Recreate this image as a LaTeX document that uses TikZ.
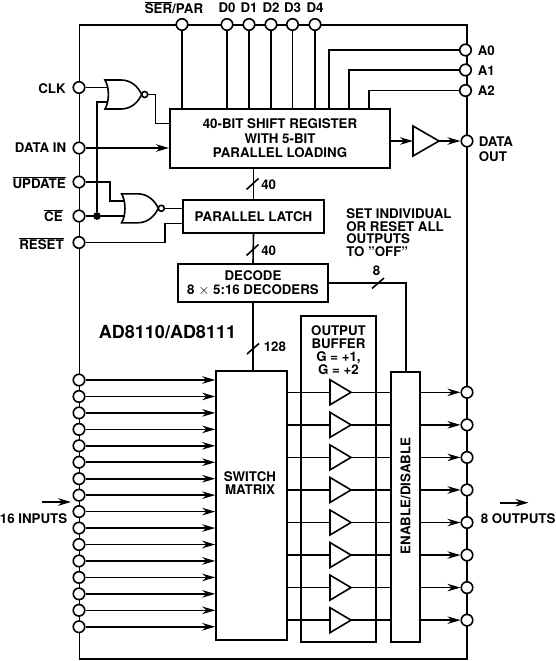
\documentclass[tikz,border=0pt]{standalone}
\usepackage{fontspec}
\setmainfont{TeX Gyre Heros}
\usetikzlibrary{arrows.meta,shapes.geometric}
\newcommand{\ovl}[1]{$\overline{\mbox{#1}}$}
\begin{document}
\begin{tikzpicture}[x=1pt,y=-1pt,>={Stealth[length=13pt,width=7.5pt]}, line width=1.6pt, line join=miter,
	font=\bfseries\fontsize{13.3}{14.4}\selectfont,
	box/.style={draw,rectangle,inner sep=0pt,align=center},
	pin/.style={draw,circle,fill=white,inner sep=0pt,minimum size=11.5pt},
	lab/.style={inner sep=0pt,align=left},
	amp/.style={draw,isosceles triangle,isosceles triangle stretches,inner sep=0pt,outer sep=0pt,anchor=lower side},
	dot/.style={draw,circle,fill=black,inner sep=0pt,minimum size=6pt},
	norgate/.pic={
		\draw (0,-14.5) -- (16,-14.5) .. controls (26,-14.5) and (33,-8) .. (36.7,0) .. controls (33,8) and (26,14.5) .. (16,14.5) -- (0,14.5) .. controls (4.5,7) and (4.5,-7) .. (0,-14.5) -- cycle;
		\draw[fill=white] (39.7,0) circle (3);
		\coordinate (-ina) at (2.8,-7.25);
		\coordinate (-inb) at (2.8,7.25);
		\coordinate (-out) at (42.7,0);
	}]
	\useasboundingbox (0,0) rectangle (556,661);
	\def\xL{79.5} \def\xR{467} \def\yT{25} \def\yB{659}
	\draw[line width=1.9pt] (\xL,\yT) rectangle (\xR,\yB);
	% Khoi
	\node[box,minimum width=220.5pt,minimum height=59pt] (reg) at (280,138.5) {40-BIT SHIFT REGISTER\\WITH 5-BIT\\PARALLEL LOADING};
	\node[box,minimum width=140.5pt,minimum height=33pt] (latch) at (253.5,216.5) {PARALLEL LATCH};
	\node[box,minimum width=150pt,minimum height=38pt] (dec) at (253,283) {DECODE\\8 $\times$ 5:16 DECODERS};
	\node[box,minimum width=71pt,minimum height=269pt] (sw) at (251.5,505.5) {};
	\node[lab,align=center,font=\bfseries\fontsize{13.3}{12.6}\selectfont] (swtext) at (250,483) {SWITCH\\MATRIX};
	\node[box,minimum width=75pt,minimum height=326pt] (obuf) at (338.5,479) {};
	\node[box,minimum width=28.5pt,minimum height=270.5pt] (en) at (405.5,507) {};
	\node[rotate=90,inner sep=0pt] (entext) at (405.5,496) {ENABLE/DISABLE};
	\node[lab,align=center,font=\bfseries\fontsize{13.3}{13}\selectfont] (obuftext) at (338.5,350.5) {OUTPUT\\BUFFER\\G = +1,\\G = +2};
	% Chan tren
	\node[pin] (ser) at (182,24.5) {};
	\node[lab] (sertext) at (174,8) {\ovl{SER}/PAR};
	\draw (ser) -- (ser |- reg.north);
	\foreach \t/\x in {0/227,1/249,2/271,3/292.5,4/315} {
		\node[pin] (d\t) at (\x,24.5) {};
		\node[lab] (dtext\t) at (\x,8) {D\t};
		\draw (d\t) -- (d\t |- reg.north);
	}
	% Chan dia chi
	\foreach \t/\y/\x in {0/50/329,1/70/349,2/90.5/369} {
		\node[pin] (a\t) at (465.5,\y) {};
		\node[lab,anchor=west] (atext\t) at (477,\y+0.5) {A\t};
		\coordinate (k\t) at (\x,\y);
		\draw (a\t) -- (k\t) -- (k\t |- reg.north);
	}
	% Chan trai
	\node[pin] (clk) at (79,87.5) {};
	\node[pin] (din) at (79,148) {};
	\node[pin] (upd) at (79,182) {};
	\node[pin] (ce) at (79,216) {};
	\node[pin] (rst) at (79,242.5) {};
	\node[lab,anchor=east] (clktext) at (66.5,89) {CLK};
	\node[lab,anchor=east] (dintext) at (67,148) {DATA IN};
	\node[lab,anchor=east] (updtext) at (66.5,182.5) {\ovl{UPDATE}};
	\node[lab,anchor=east] (cetext) at (63.5,216) {\ovl{CE}};
	\node[lab,anchor=east] (rsttext) at (64.5,244) {\ovl{RESET}};
	% Cong NOR
	\pic (nora) at (105,94.5) {norgate};
	\pic (norb) at (121.6,208.3) {norgate};
	\node[dot] (jct) at (97,216) {};
	\draw (clk) -- (clk -| nora-ina);
	\draw (jct) -- (jct |- nora-inb) -- (nora-inb);
	\coordinate (kclk) at (155.5,123.5);
	\draw (nora-out) -- (kclk |- nora-out) -- (kclk) -- (kclk -| reg.west);
	\draw[->] (din) -- (din -| reg.west);
	\coordinate (kupd) at (110,182);
	\draw (upd) -- (kupd) -- (kupd |- norb-ina) -- (norb-ina);
	\draw (ce) -- (ce -| norb-inb);
	\draw (norb-out) -- (norb-out -| latch.west);
	\coordinate (krst) at (164.7,242.5);
	\draw (rst) -- (krst) -- (krst |- 0,223.3) -- (latch.west |- 0,223.3);
	% Dau ra du lieu
	\node[amp,minimum width=30pt,minimum height=26pt] (bufd) at (413,141) {};
	\node[pin] (dout) at (467,141) {};
	\node[lab,anchor=north west,font=\bfseries\fontsize{13.3}{15}\selectfont] (douttext) at (478,136) {DATA\\OUT};
	\draw[->] (reg.east |- bufd.lower side) -- (bufd.lower side);
	\draw[->] (bufd.apex) -- (dout);
	% Bus
	\draw (reg.south -| latch.north) -- (latch.north);
	\draw (latch.south) -- (dec.north);
	\draw (246.5,189.5) -- (258.5,178.5);
	\draw (246.5,255.5) -- (258.5,244.5);
	\draw (dec.south) -- (dec.south |- sw.north);
	\draw (247,354) -- (259,343.5);
	\node[lab,anchor=west] (bustexta) at (260.5,185) {40};
	\node[lab,anchor=west] (bustextb) at (260.5,250.5) {40};
	\node[lab,anchor=west] (bustextc) at (263,347) {128};
	\coordinate (ken) at (406,283);
	\draw (dec.east |- ken) -- (ken) -- (ken |- en.north);
	\draw (372,288.5) -- (384,278);
	\node[lab] (bustextd) at (376.5,271) {8};
	\node[lab,anchor=north west,font=\bfseries\fontsize{13.3}{12.6}\selectfont] (settext) at (345.5,208) {SET INDIVIDUAL\\OR RESET ALL\\OUTPUTS\\TO "OFF"};
	\node[lab,font=\bfseries\fontsize{18}{18}\selectfont] (title) at (167.5,332) {AD8110/AD8111};
	% 16 dau vao
	\foreach \i in {1,...,16} {
		\pgfmathsetmacro{\y}{380+(\i-1)*16.45}
		\node[pin] (in\i) at (79,\y) {};
		\draw[->] (in\i) -- (in\i -| sw.west);
	}
	% 8 dau ra
	\foreach \i in {1,...,8} {
		\pgfmathsetmacro{\y}{392.3+(\i-1)*32.55}
		\node[amp,minimum width=25pt,minimum height=21pt] (buf\i) at (330,\y) {};
		\node[pin] (out\i) at (467,\y) {};
		\draw (buf\i.lower side -| sw.east) -- (buf\i.lower side);
		\draw (buf\i.apex) -- (buf\i.apex -| en.west);
		\draw[->] (en.east |- buf\i.apex) -- (out\i);
	}
	\node[lab,anchor=east] (intext) at (68,519) {16 INPUTS};
	\node[lab,anchor=west] (outtext) at (480,518.5) {8 OUTPUTS};
	\coordinate (ia) at (41.5,502); \coordinate (ib) at (71,502);
	\coordinate (oa) at (500,502.7); \coordinate (ob) at (528.5,502.7);
	\draw[->] (ia) -- (ib);
	\draw[->] (oa) -- (ob);
\end{tikzpicture}
\end{document}
